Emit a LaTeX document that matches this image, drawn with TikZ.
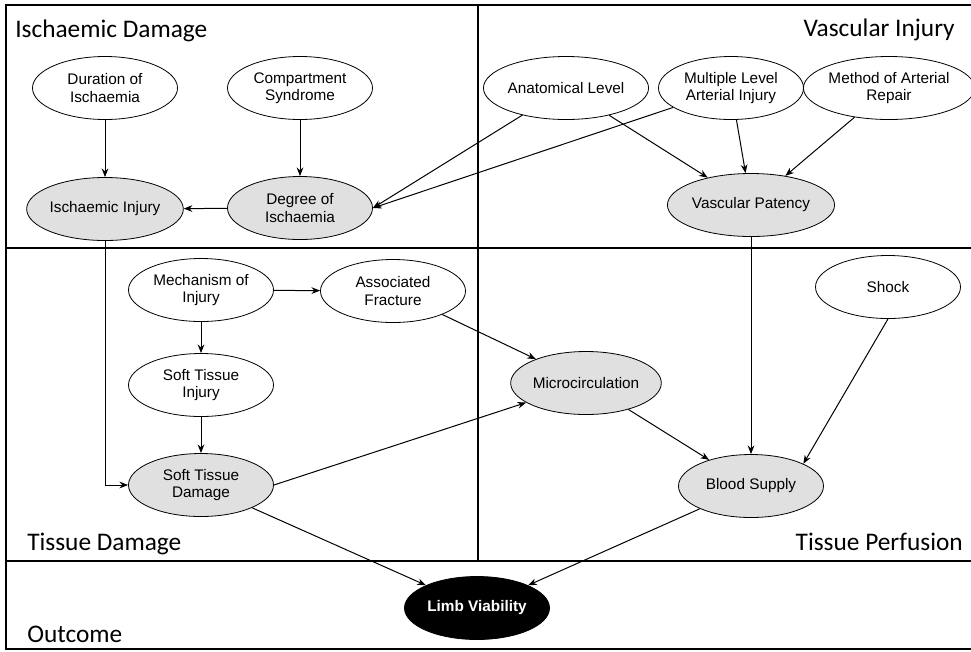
\documentclass[tikz,border=0pt]{standalone}
\usepackage{fontspec}
\setmainfont{Liberation Sans}
\newfontfamily\regionfont{Carlito}
\usetikzlibrary{shapes.geometric,arrows.meta}
\definecolor{shadedvar}{RGB}{224,224,224}
\tikzset{
  var/.style={
    ellipse,
    draw,
    line width=0.6pt,
    minimum width=108.75pt,
    minimum height=47.25pt,
    inner sep=0pt,
    align=center,
    font=\fontsize{11.5}{13}\selectfont
  },
  shaded var/.style={var, fill=shadedvar},
  outcome var/.style={var, fill=black, text=white, font=\fontsize{11.5}{13}\selectfont\bfseries},
  region/.style={inner sep=0pt, font=\regionfont\fontsize{19}{22}\selectfont},
  frame/.style={line width=1.5pt},
  link/.style={->, >={Stealth[length=6.5pt,width=5pt]}, line width=0.75pt}
}

\begin{document}
\begin{tikzpicture}[x=0.75pt,y=-0.75pt]
\useasboundingbox (0,0) rectangle (971,651);
\clip (0,0) rectangle (971,651);
% frame and regions
\draw[frame] (980,5) -- (6,5) -- (6,649) -- (980,649);
\draw[frame] (478,5) -- (478,561);
\draw[frame] (6,248) -- (980,248);
\draw[frame] (6,561) -- (980,561);
\node[region, anchor=base west] (ischlabel) at (15,37) {Ischaemic Damage};
\node[region, anchor=base east] (vasclabel) at (955,36) {Vascular Injury};
\node[region, anchor=base west] (tisslabel) at (27,550) {Tissue Damage};
\node[region, anchor=base east] (perflabel) at (963,550) {Tissue Perfusion};
\node[region, anchor=base west] (outlabel) at (27,642) {Outcome};
% variables
\node[var] (dur) at (105,88) {Duration of\\Ischaemia};
\node[var] (comp) at (300,88) {Compartment\\Syndrome};
\node[shaded var] (isinj) at (105,209) {Ischaemic Injury};
\node[shaded var] (deg) at (300,208) {Degree of\\Ischaemia};
\node[var] (anat) at (566,88) {Anatomical Level};
\node[var] (mult) at (731,88) {Multiple Level\\Arterial Injury};
\node[var] (meth) at (889,88) {Method of Arterial\\Repair};
\node[shaded var] (vp) at (751,205) {Vascular Patency};
\node[var] (mech) at (201,290) {Mechanism of\\Injury};
\node[var] (af) at (393,291) {Associated\\Fracture};
\node[var] (sti) at (201,385) {Soft Tissue\\Injury};
\node[shaded var] (std) at (201,485) {Soft Tissue\\Damage};
\node[shaded var] (micro) at (586,383) {Microcirculation};
\node[var] (shock) at (888,287) {Shock};
\node[shaded var] (bs) at (751,486) {Blood Supply};
\node[outcome var] (lv) at (477,608) {Limb Viability};
% links
\draw[link] (dur) -- (isinj);
\draw[link] (comp) -- (deg);
\draw[link] (deg) -- (isinj);
\draw[link] (anat) -- (deg.east);
\draw[link] (mult) -- (deg.east);
\draw[link] (anat) -- (vp);
\draw[link] (mult) -- (vp);
\draw[link] (meth) -- (vp);
\draw[link] (vp) -- (bs);
\draw[link] (shock.south) -- (bs.23);
\draw[link] (micro) -- (bs);
\draw[link] (af) -- (micro);
\draw[link] (std.east) -- (micro);
\draw[link] (mech) -- (af);
\draw[link] (mech) -- (sti);
\draw[link] (sti) -- (std);
\draw[link] (isinj.south) |- (std.west);
\draw[link] (std) -- (lv);
\draw[link] (bs) -- (lv);
\end{tikzpicture}
\end{document}
